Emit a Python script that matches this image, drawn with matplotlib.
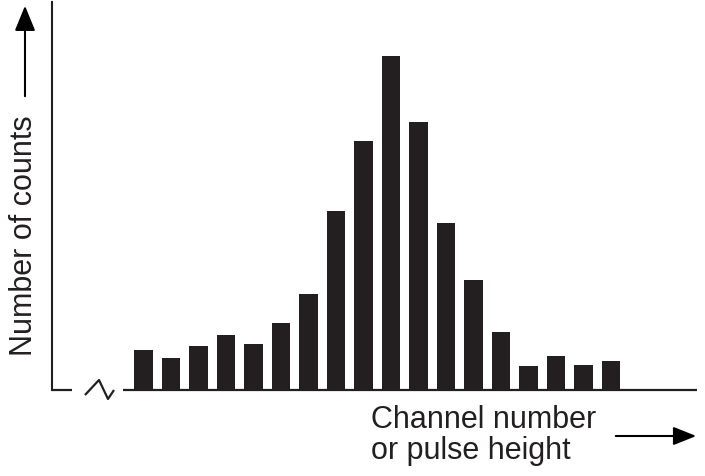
import numpy as np
import matplotlib
matplotlib.use("Agg")
import matplotlib.pyplot as plt

plt.rcParams['font.family'] = ['Liberation Sans', 'DejaVu Sans']

# channel index and counts per channel (arbitrary units)
channels = np.arange(18)
counts = [40, 32, 44, 55, 46, 67, 96, 179, 249, 334, 268, 167, 110, 58, 24, 34, 25, 29]

ink = '#231f20'
W, H = 705, 477

fig = plt.figure(figsize=(W / 100, H / 100), dpi=100)
# axes box in pixel terms: left edge 52, right 697, baseline 391, top 3
ax = fig.add_axes([52 / W, 1 - 391 / H, (697 - 52) / W, (391 - 3) / H])

ax.bar(channels, counts, width=0.67, color=ink, edgecolor='none')
ax.set_xlim(-3.33, 20.13)
ax.set_ylim(0, 388)

for s in ['top', 'right', 'bottom']:
    ax.spines[s].set_visible(False)
ax.spines['left'].set_linewidth(1.5)
ax.spines['left'].set_color(ink)
ax.set_xticks([])
ax.set_yticks([])

# broken baseline with zigzag break marker
def px(x, y):
    return ((x - 52) / (697 - 52), (391 - y) / (391 - 3))

seg1 = [px(52, 391), px(72, 391)]
zig = [px(85, 396), px(99, 381), px(108, 400), px(114, 391)]
seg2 = [px(123, 391), px(697, 391)]
for pts in (seg1, zig, seg2):
    xs, ys = zip(*pts)
    ax.plot(xs, ys, transform=ax.transAxes, color=ink, lw=1.6,
            clip_on=False, solid_capstyle='butt')

# y label with arrow
fig.text(24 / W, 1 - 236 / H, 'Number of counts', rotation=90,
         ha='center', va='center', fontsize=22, color=ink)
fig.patches.append(matplotlib.patches.FancyArrowPatch(
    (25 / W, 1 - 100 / H), (25 / W, 1 - 4 / H), transform=fig.transFigure,
    arrowstyle='-|>,head_length=1.1,head_width=0.45', mutation_scale=14,
    color='black', lw=1.5))

# x label (two lines) with arrow
fig.text(371 / W, 1 - 428 / H, 'Channel number', ha='left', va='baseline',
         fontsize=22, color=ink)
fig.text(371 / W, 1 - 459 / H, 'or pulse height', ha='left', va='baseline',
         fontsize=22, color=ink)
fig.patches.append(matplotlib.patches.FancyArrowPatch(
    (613 / W, 1 - 437 / H), (699 / W, 1 - 437 / H), transform=fig.transFigure,
    arrowstyle='-|>,head_length=1.0,head_width=0.4', mutation_scale=14,
    color='black', lw=1.5))

fig.savefig('out.png', dpi=100, facecolor='white')
